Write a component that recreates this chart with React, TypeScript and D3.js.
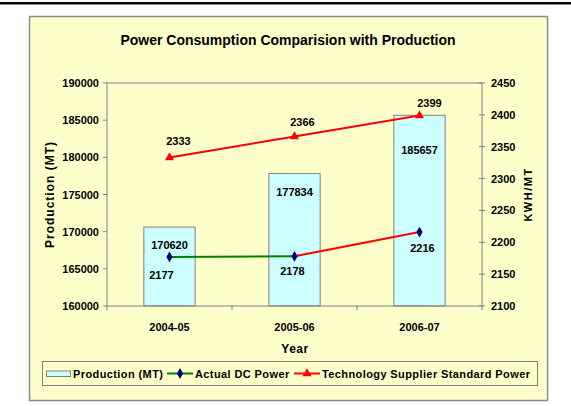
import React from "react";
import * as d3 from "d3";

const years = ["2004-05", "2005-06", "2006-07"];
const production = [170620, 177834, 185657];
const actualDC = [2177, 2178, 2216];
const supplierStd = [2333, 2366, 2399];
const leftTicks = [160000, 165000, 170000, 175000, 180000, 185000, 190000];
const rightTicks = [2100, 2150, 2200, 2250, 2300, 2350, 2400, 2450];
// colour of each Actual DC segment (the last one was recoloured red in the source)
const dcSegmentColors = ["#008000", "#FF0000"];

const W = 571;
const H = 406;
const font = "'Liberation Sans', Arial, sans-serif";

// label nudges (dx, dy) relative to each point, as placed in the original
const supplierNudge = [[9, -17], [8, -15], [10, -12]];
const dcNudge = [[-8, 18], [-2, 15], [3, 16]];
const barNudge = [18, 19, 35];

export default function App() {
  const plot = { left: 107, right: 482, top: 83, bottom: 306 };

  const x = d3.scaleBand().domain(years).range([plot.left, plot.right]).padding(0);
  const yL = d3.scaleLinear().domain([160000, 190000]).range([plot.bottom, plot.top]);
  const yR = d3.scaleLinear().domain([2100, 2450]).range([plot.bottom, plot.top]);
  const cx = (i: number) => (x(years[i]) as number) + x.bandwidth() / 2;
  const barW = x.bandwidth() * 0.41;

  const supLine = d3
    .line<number>()
    .x((d, i) => cx(i))
    .y((d) => yR(d));

  const diamond = d3.symbol().type(d3.symbolDiamond).size(34)();
  const triangle = d3.symbol().type(d3.symbolTriangle).size(36)();

  const txt = { fontFamily: font, fontSize: 11, fontWeight: 700, fill: "#000" } as const;
  const legTxt = { ...txt, letterSpacing: 0.4 };

  return (
    <svg
      width={W}
      height={H}
      style={{ position: "absolute", left: 0, top: 0, background: "#fff" }}
    >
      <rect x={0} y={2} width={W} height={2.5} fill="#000" />

      {/* chart area */}
      <rect x={29.5} y={16.5} width={518} height={384} fill="#FFFFCC" stroke="#8c8c8c" strokeWidth={1.5} />

      <text x={288} y={45} textAnchor="middle" style={{ ...txt, fontSize: 14 }}>
        Power Consumption Comparision with Production
      </text>

      {/* plot border top */}
      <line x1={plot.left} x2={plot.right} y1={plot.top} y2={plot.top} stroke="#808080" />

      {/* bars */}
      {production.map((v, i) => (
        <rect
          key={"b" + i}
          x={cx(i) - barW / 2}
          y={yL(v)}
          width={barW}
          height={plot.bottom - yL(v)}
          fill="#CCFFFF"
          stroke="#808080"
          strokeWidth={1}
        />
      ))}
      {production.map((v, i) => (
        <text key={"bl" + i} x={cx(i)} y={yL(v) + barNudge[i] + 4} textAnchor="middle" style={txt}>
          {v}
        </text>
      ))}

      {/* axes */}
      <line x1={plot.left} x2={plot.left} y1={plot.top} y2={plot.bottom} stroke="#808080" />
      <line x1={plot.right} x2={plot.right} y1={plot.top} y2={plot.bottom} stroke="#808080" />
      <line x1={plot.left} x2={plot.right} y1={plot.bottom} y2={plot.bottom} stroke="#808080" />
      {leftTicks.map((t) => (
        <g key={"lt" + t}>
          <line x1={plot.left - 4} x2={plot.left} y1={yL(t)} y2={yL(t)} stroke="#808080" />
          <text x={plot.left - 8} y={yL(t) + 4} textAnchor="end" style={txt}>
            {t}
          </text>
        </g>
      ))}
      {rightTicks.map((t) => (
        <g key={"rt" + t}>
          <line x1={plot.right - 3} x2={plot.right + 3} y1={yR(t)} y2={yR(t)} stroke="#808080" />
          <text x={plot.right + 9} y={yR(t) + 4} textAnchor="start" style={txt}>
            {t}
          </text>
        </g>
      ))}
      {[...years.map((y) => x(y) as number), plot.right].map((px, i) => (
        <line key={"xt" + i} x1={px} x2={px} y1={plot.bottom} y2={plot.bottom + 4} stroke="#808080" />
      ))}
      {years.map((y, i) => (
        <text key={"xl" + y} x={cx(i)} y={331} textAnchor="middle" style={txt}>
          {y}
        </text>
      ))}

      <text x={295} y={353} textAnchor="middle" style={{ ...txt, fontSize: 12, letterSpacing: 0.5 }}>
        Year
      </text>
      <text
        transform={`translate(54, ${(plot.top + plot.bottom) / 2}) rotate(-90)`}
        textAnchor="middle"
        style={{ ...txt, fontSize: 12, letterSpacing: 1 }}
      >
        Production (MT)
      </text>
      <text
        transform={`translate(532, ${(plot.top + plot.bottom) / 2}) rotate(-90)`}
        textAnchor="middle"
        style={{ ...txt, letterSpacing: 1.5 }}
      >
        KWH/MT
      </text>

      {/* supplier standard line */}
      <path d={supLine(supplierStd) || ""} fill="none" stroke="#FF0000" strokeWidth={2} />
      {supplierStd.map((v, i) => (
        <path key={"tr" + i} d={triangle || ""} transform={`translate(${cx(i)},${yR(v)})`} fill="#FF0000" />
      ))}
      {supplierStd.map((v, i) => (
        <text
          key={"sl" + i}
          x={cx(i) + supplierNudge[i][0]}
          y={yR(v) + supplierNudge[i][1] + 4}
          textAnchor="middle"
          style={txt}
        >
          {v}
        </text>
      ))}

      {/* actual DC line */}
      {actualDC.slice(1).map((v, i) => (
        <line
          key={"dc" + i}
          x1={cx(i)}
          y1={yR(actualDC[i])}
          x2={cx(i + 1)}
          y2={yR(v)}
          stroke={dcSegmentColors[i]}
          strokeWidth={2}
        />
      ))}
      {actualDC.map((v, i) => (
        <path key={"dm" + i} d={diamond || ""} transform={`translate(${cx(i)},${yR(v)})`} fill="#000080" />
      ))}
      {actualDC.map((v, i) => (
        <text
          key={"dl" + i}
          x={cx(i) + dcNudge[i][0]}
          y={yR(v) + dcNudge[i][1] + 4}
          textAnchor="middle"
          style={txt}
        >
          {v}
        </text>
      ))}

      {/* legend */}
      <rect x={42.5} y={361.5} width={495} height={24} fill="#FFFFCC" stroke="#808080" />
      <rect x={46.5} y={371} width={24} height={5.5} fill="#CCFFFF" stroke="#808080" />
      <text x={73} y={378} style={legTxt}>Production (MT)</text>
      <line x1={167} x2={193} y1={373.5} y2={373.5} stroke="#008000" strokeWidth={2} />
      <path d={diamond || ""} transform="translate(180,373.5)" fill="#000080" />
      <text x={195} y={378} style={legTxt}>Actual DC Power</text>
      <line x1={294} x2={320} y1={373.5} y2={373.5} stroke="#FF0000" strokeWidth={2} />
      <path d={triangle || ""} transform="translate(307,373.5)" fill="#FF0000" />
      <text x={322} y={378} style={legTxt}>Technology Supplier Standard Power</text>
    </svg>
  );
}
